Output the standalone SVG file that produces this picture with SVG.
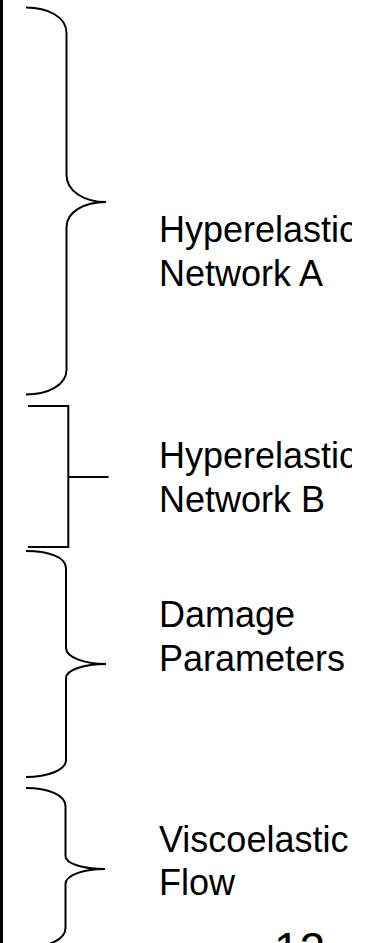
<svg xmlns="http://www.w3.org/2000/svg" width="381" height="943" viewBox="0 0 381 943">
<style>
.br{fill:none;stroke:#000;stroke-width:2;stroke-linecap:butt;stroke-linejoin:miter}
.lb{font-family:"Liberation Sans",Arial,sans-serif;font-size:36px;fill:#000}
</style>
<defs>
<clipPath id="textclip"><rect x="0" y="0" width="352" height="943"/></clipPath>
</defs>
<rect width="381" height="943" fill="#fff"/>
<rect x="0" y="0" width="3" height="943" fill="#000"/>
<g id="connectors">
<path id="brace-a" class="br" d="M26,7.5 C48,7.5 66.5,17 66.5,33 L66.5,175 C66.5,191 84,202 106,202 C84,202 66.5,212 66.5,227 L66.5,370 C66.5,385 48,394.5 26,394.5"/>
<path id="bracket-b" class="br" d="M28,406 H68.3 V547 H28 M68.3,477 H108.5"/>
<path id="brace-c" class="br" d="M26,551 C48,551 66,557 66,568 L66,648 C66,657 84,664 106,664 C84,664 66,670 66,678 L66,760 C66,770 48,777 26,777"/>
<path id="brace-d" class="br" d="M26,788 C48,788 65.5,795 65.5,806 L65.5,856 C65.5,864 84,869 105,869 C84,869 65.5,875 65.5,884 L65.5,928 C65.5,940 48,947 27,947"/>
</g>
<g clip-path="url(#textclip)">
<g id="node-hyperelastic-a"><text class="lb" x="159" y="242">Hyperelastic</text><text class="lb" x="159" y="286">Network A</text></g>
<g id="node-hyperelastic-b"><text class="lb" x="159" y="468">Hyperelastic</text><text class="lb" x="159" y="512">Network B</text></g>
<g id="node-damage"><text class="lb" x="159" y="627">Damage</text><text class="lb" x="159" y="671">Parameters</text></g>
<g id="node-viscoelastic"><text class="lb" x="159" y="852">Viscoelastic</text><text class="lb" x="159" y="895">Flow</text></g>
</g>
<g id="page-number"><text class="lb" x="274" y="965" style="font-size:46px">12</text></g>
</svg>
